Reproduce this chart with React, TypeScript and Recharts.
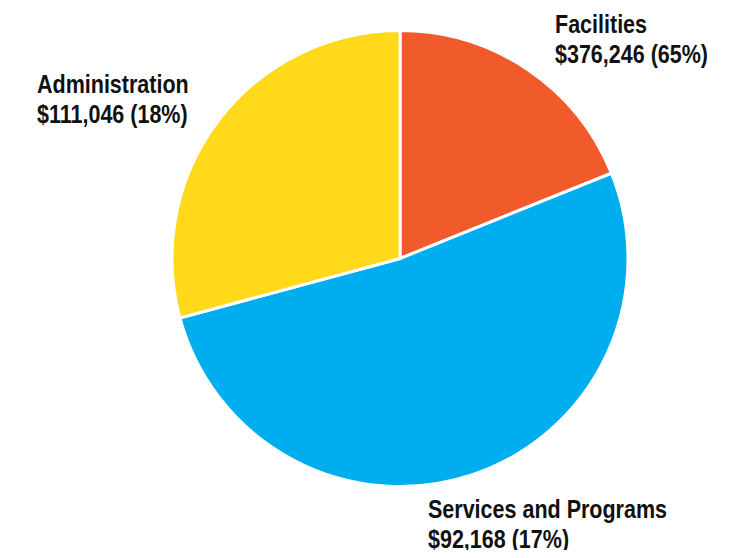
import { PieChart, Pie, Cell } from 'recharts';

const categories = ['Facilities', 'Services and Programs', 'Administration'];
// slice sizes as drawn (share of the circle, %)
const shares = [18.9, 51.9, 29.2];
const amountLabels = ['$376,246', '$92,168', '$111,046'];
const percentLabels = ['65%', '17%', '18%'];
const colors = ['#F15A2B', '#00AEEF', '#FFD91A'];

const labelSpots = [
  { left: 555, top: 9 },
  { left: 428, top: 494 },
  { left: 37, top: 69 },
];

const data = categories.map((name, i) => ({ name, value: shares[i] }));

export default function App() {
  return (
    <div style={{ position: 'relative', width: 749, height: 558, margin: -8, background: '#fff' }}>
      <PieChart width={749} height={558} margin={{ top: 0, right: 0, bottom: 0, left: 0 }}>
        <Pie
          data={data}
          dataKey="value"
          cx={400}
          cy={258.5}
          outerRadius={228}
          startAngle={90}
          endAngle={-270}
          stroke="#fff"
          strokeWidth={3}
          isAnimationActive={false}
        >
          {data.map((d, i) => (
            <Cell key={d.name} fill={colors[i]} />
          ))}
        </Pie>
      </PieChart>
      {categories.map((name, i) => (
        <div
          key={name}
          style={{
            position: 'absolute',
            left: labelSpots[i].left,
            top: labelSpots[i].top,
            fontFamily: '"Liberation Sans Narrow", "Arial Narrow", "Liberation Sans", sans-serif',
            fontWeight: 700,
            fontSize: 25,
            lineHeight: '30px',
            color: '#111',
            whiteSpace: 'nowrap',
            transform: 'scaleX(0.86)',
            transformOrigin: 'left top',
          }}
        >
          <div>{name}</div>
          <div>{amountLabels[i]} ({percentLabels[i]})</div>
        </div>
      ))}
    </div>
  );
}
